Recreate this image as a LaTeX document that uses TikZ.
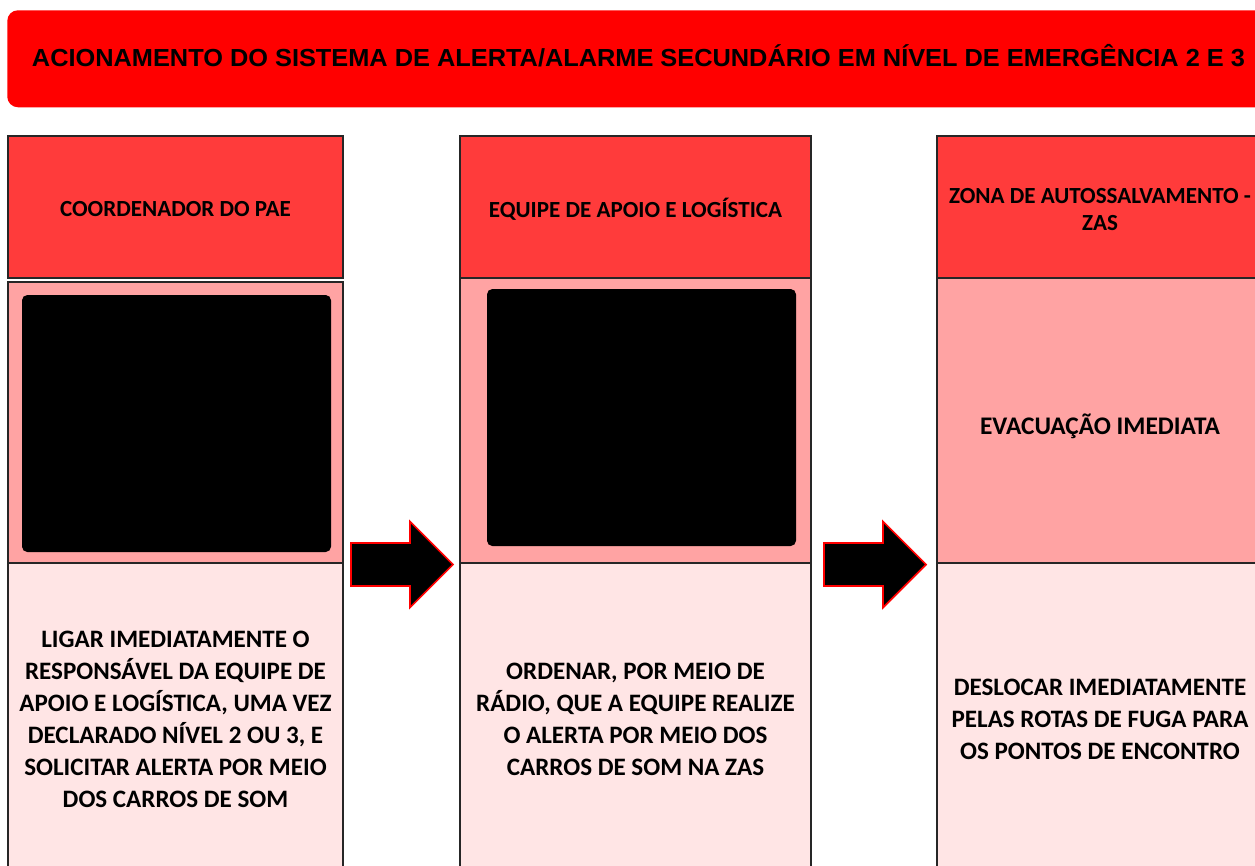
\documentclass[tikz,border=0pt]{standalone}
\usepackage{fontspec}
\setmainfont{Carlito}
\newfontfamily\titlefont{Liberation Sans}
\usepackage{graphicx}
\definecolor{titlered}{HTML}{FF0000}
\definecolor{headred}{HTML}{FF3B3B}
\definecolor{midpink}{HTML}{FFA3A3}
\definecolor{lightpink}{HTML}{FFE5E5}
\definecolor{edge}{HTML}{262626}
\tikzset{
  cell/.style={draw=edge, line width=1.1pt, inner sep=0pt, align=center, font=\bfseries},
  headbox/.style={cell, fill=headred, minimum height=106.5pt},
  headtext/.style={align=center, inner sep=0pt, font=\fontsize{17.3}{20.25}\selectfont\bfseries},
  midbox/.style={cell, fill=midpink},
  lowbox/.style={cell, fill=lightpink, minimum height=234pt, font=\fontsize{18.8}{24}\selectfont\bfseries},
  photo/.style={fill=black, rounded corners=4pt, minimum width=231.75pt, minimum height=192.75pt, inner sep=0pt},
  blockarrow/.style={fill=black, draw=red, line width=1.3pt, line join=miter},
  midtext/.style={font=\fontsize{19}{24}\selectfont\bfseries, align=center}
}
\begin{document}
\begin{tikzpicture}[x=0.75pt,y=-0.75pt]
\useasboundingbox (0,0) rectangle (1255,865);
\clip (0,0) rectangle (1255,865);
% title
\node[fill=titlered, rounded corners=8pt, minimum width=951pt, minimum height=72.75pt, inner sep=0pt, anchor=north west] (title) at (7,10) {};
\node[anchor=base, inner sep=0pt] (titletext) at (638.5,66.7) {\resizebox{909.75pt}{\height}{\titlefont\fontsize{18.5}{22}\selectfont\bfseries ACIONAMENTO DO SISTEMA DE ALERTA/ALARME SECUNDÁRIO EM NÍVEL DE EMERGÊNCIA 2 E 3}};
% column 1
\node[headbox, minimum width=251.25pt] (h1) at (175.5,207) {};
\node[headtext] (h1t) at (175.5,209.5) {COORDENADOR DO PAE};
\node[midbox, minimum width=251.25pt, minimum height=210.75pt] (m1) at (175.5,422.5) {};
\node[lowbox, minimum width=251.25pt] (l1) at (175.5,719) {LIGAR IMEDIATAMENTE O\\RESPONSÁVEL DA EQUIPE DE\\APOIO E LOGÍSTICA, UMA VEZ\\DECLARADO NÍVEL 2 OU 3, E\\SOLICITAR ALERTA POR MEIO\\DOS CARROS DE SOM};
\node[photo] (p1) at (176.5,423.5) {};
% column 2
\node[headbox, minimum width=263.25pt] (h2) at (635.5,207) {};
\node[headtext] (h2t) at (635.5,209) {EQUIPE DE APOIO E LOGÍSTICA};
\node[midbox, minimum width=263.25pt, minimum height=213.75pt] (m2) at (635.5,420.5) {};
\node[lowbox, minimum width=263.25pt] (l2) at (635.5,719) {ORDENAR, POR MEIO DE\\RÁDIO, QUE A EQUIPE REALIZE\\O ALERTA POR MEIO DOS\\CARROS DE SOM NA ZAS};
\node[photo] (p2) at (641.5,417.5) {};
% column 3
\node[headbox, minimum width=244.5pt] (h3) at (1100,207) {};
\node[headtext] (h3t) at (1100,210) {ZONA DE AUTOSSALVAMENTO -\\ZAS};
\node[midbox, minimum width=244.5pt, minimum height=213.75pt] (m3) at (1100,420.5) {};
\node[midtext] (m3t) at (1100,426) {EVACUAÇÃO IMEDIATA};
\node[lowbox, minimum width=244.5pt] (l3) at (1100,719) {DESLOCAR IMEDIATAMENTE\\PELAS ROTAS DE FUGA PARA\\OS PONTOS DE ENCONTRO};
% arrows
\coordinate (a1) at (351,564.5);
\coordinate (a2) at (824,564.5);
\foreach \a in {a1,a2}{
  \draw[blockarrow, shift={(\a)}] (0,-21.5) -- (59,-21.5) -- (59,-43) -- (102,0) -- (59,43) -- (59,21.5) -- (0,21.5) -- cycle;
}
\end{tikzpicture}
\end{document}
